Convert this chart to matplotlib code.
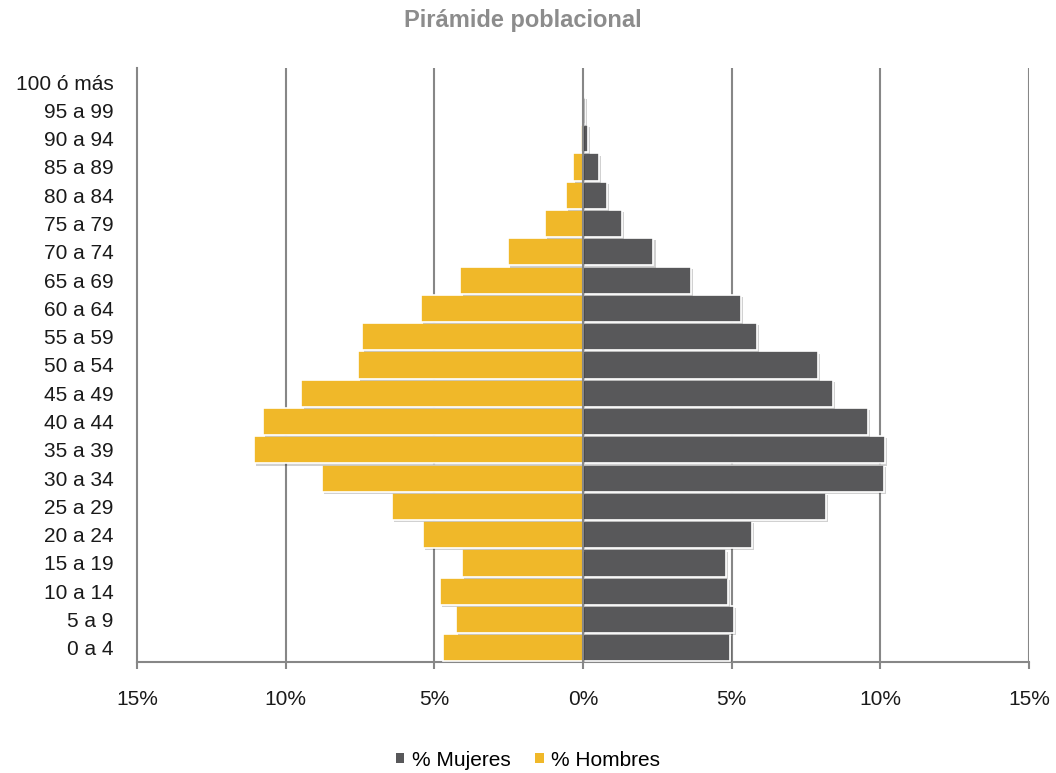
import matplotlib
matplotlib.use("Agg")
import matplotlib.pyplot as plt
import matplotlib.patheffects as pe
from matplotlib.patches import Patch
from matplotlib.ticker import FixedLocator, FuncFormatter

plt.rcParams['font.family'] = ['Liberation Sans', 'DejaVu Sans']

categories = ["0 a 4", "5 a 9", "10 a 14", "15 a 19", "20 a 24", "25 a 29",
              "30 a 34", "35 a 39", "40 a 44", "45 a 49", "50 a 54", "55 a 59",
              "60 a 64", "65 a 69", "70 a 74", "75 a 79", "80 a 84", "85 a 89",
              "90 a 94", "95 a 99", "100 ó más"]
hombres = [4.71, 4.28, 4.81, 4.06, 5.37, 6.43, 8.78, 11.08, 10.76, 9.47, 7.58,
           7.44, 5.46, 4.12, 2.51, 1.29, 0.56, 0.34, 0.08, 0.02, 0.0]
mujeres = [4.94, 5.08, 4.87, 4.81, 5.67, 8.16, 10.12, 10.17, 9.58, 8.41, 7.90,
           5.86, 5.31, 3.62, 2.37, 1.31, 0.81, 0.53, 0.18, 0.07, 0.01]
xticks = [-15, -10, -5, 0, 5, 10, 15]

col_m = "#58585A"
col_h = "#F0B829"
grid_col = "#878787"

fig = plt.figure(figsize=(10.56, 7.73), dpi=100)
ax = fig.add_axes([137/1056, 1-662/773, (1029-137)/1056, (662-68)/773])

y = list(range(len(categories)))
shadow = [pe.SimplePatchShadow(offset=(1.5, -1.5), shadow_rgbFace="#000000", alpha=0.18), pe.Normal()]
bm = ax.barh(y, mujeres, height=0.96, color=col_m, edgecolor="white", linewidth=1.2, zorder=3)
bh = ax.barh(y, [-v for v in hombres], height=0.96, color=col_h, edgecolor="white", linewidth=1.2, zorder=3)
for b in list(bm) + list(bh):
    b.set_path_effects(shadow)

ax.set_xlim(-15, 15)
ax.set_ylim(-0.5, len(categories) - 0.5)
ax.xaxis.set_major_locator(FixedLocator(xticks))
ax.xaxis.set_major_formatter(FuncFormatter(lambda v, p: f"{abs(int(round(v)))}%"))
ax.set_yticks(y)
ax.set_yticklabels(categories)

for xv in xticks[1:]:
    ax.axvline(xv, color=grid_col, linewidth=1.5, zorder=1 if xv != 0 else 4)

for s in ["top", "right"]:
    ax.spines[s].set_visible(False)
ax.spines["left"].set_color(grid_col)
ax.spines["left"].set_linewidth(1.5)
ax.spines["bottom"].set_color(grid_col)
ax.spines["bottom"].set_linewidth(1.5)

ax.tick_params(axis="x", direction="out", length=5, width=1.5, color=grid_col,
               labelsize=15, labelcolor="#1a1a1a", pad=15)
ax.tick_params(axis="y", length=0, labelsize=15, labelcolor="#1a1a1a", pad=17)

fig.text(523/1056, 1-21/773, "Pirámide poblacional", ha="center", va="center",
         fontsize=17, fontweight="bold", color="#8C8C8C")

handles = [Patch(facecolor=col_m, edgecolor="none"), Patch(facecolor=col_h, edgecolor="none")]
fig.legend(handles, ["% Mujeres", "% Hombres"], loc="center", bbox_to_anchor=(528/1056, 1-760/773),
           ncol=2, frameon=False, fontsize=15, handlelength=0.4, handleheight=0.4,
           handletextpad=0.35, columnspacing=1.2)

fig.savefig("out.png", dpi=100, facecolor="white")
